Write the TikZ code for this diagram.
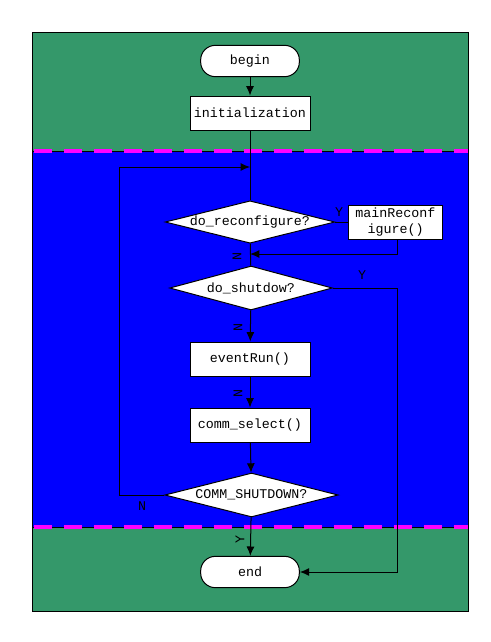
\documentclass[tikz,border=0pt]{standalone}
\usepackage{fontspec}
\setmonofont{Liberation Mono}
\usetikzlibrary{arrows.meta,shapes.geometric}
\definecolor{zonegreen}{RGB}{52,152,106}
\definecolor{zoneblue}{RGB}{0,0,255}
\definecolor{sepmagenta}{RGB}{255,0,255}

\begin{document}
\begin{tikzpicture}[x=0.75pt,y=-0.75pt,
  font=\ttfamily\fontsize{10}{11}\selectfont,
  every path/.style={line width=0.75pt},
  procbox/.style={draw,fill=white,minimum width=90pt,minimum height=25.5pt,inner sep=1pt},
  termbox/.style={draw,fill=white,rounded corners=11pt,minimum width=74pt,minimum height=23.5pt},
  decbox/.style={draw,fill=white,diamond,aspect=4,inner sep=0pt},
  flow/.style={-{Latex[length=7pt,width=6pt]}},
  tag/.style={inner sep=0pt}]
\useasboundingbox (0,0) rectangle (491,642);
% zones
\fill[zonegreen] (32,33) rectangle (468,151);
\fill[zoneblue] (32,151) rectangle (468,527);
\fill[zonegreen] (32,527) rectangle (468,611);
\draw (32,33) rectangle (468,611);
\draw (32,151) -- (468,151);
\draw (32,527) -- (468,527);
\draw[sepmagenta,line width=2.4pt,dash pattern=on 13.5pt off 9pt] (34,151) -- (468,151);
\draw[sepmagenta,line width=2.4pt,dash pattern=on 13.5pt off 9pt] (34,527) -- (468,527);

% nodes
\node[termbox] (bgn) at (250,61) {begin};
\node[procbox] (init) at (250,113) {initialization};
\node[decbox,minimum width=126pt,minimum height=31.5pt] (recf) at (250,222) {do\_reconfigure?};
\node[draw,fill=white,minimum width=71pt,minimum height=25.5pt,inner sep=1pt,align=center,
  font=\ttfamily\fontsize{10}{12.5}\selectfont] (mrc) at (395.5,222) {mainReconf\\igure()};
\node[decbox,minimum width=122pt,minimum height=33pt] (shut) at (251,288) {do\_shutdow?};
\node[procbox] (evr) at (250,359) {eventRun()};
\node[procbox] (csel) at (250,425) {comm\_select()};
\node[decbox,minimum width=130pt,minimum height=33pt] (cshd) at (251.5,495) {COMM\_SHUTDOWN?};
\node[termbox] (endn) at (250,572) {end};

\coordinate (j0) at (250,167);
\coordinate (j1) at (250,254);
\coordinate (c1) at (397,288);

% connectors
\draw[flow] (bgn) -- (init);
\draw (init) -- (recf);
\draw (recf) -- (mrc);
\draw (recf) -- (shut);
\draw[flow] (mrc.south -| c1) |- (j1);
\draw[flow] (shut) -- (evr);
\draw[flow] (evr) -- (csel);
\draw[flow] (csel) -- (cshd);
\draw[flow] (cshd) -- (endn);
\draw[flow] (cshd.west) -- ++(-45,0) |- (j0);
\draw[flow] (shut.east) -- (c1) |- (endn.east);

% labels
\node[tag] (ly1) at (339,212) {Y};
\node[tag] (ly2) at (362,275) {Y};
\node[tag,rotate=90] (ln1) at (237,256) {N};
\node[tag,rotate=90] (ln2) at (238,327) {N};
\node[tag,rotate=90] (ln3) at (238,393) {N};
\node[tag] (ln4) at (142,506) {N};
\node[tag,rotate=90] (ly3) at (240,539) {Y};
\end{tikzpicture}
\end{document}
